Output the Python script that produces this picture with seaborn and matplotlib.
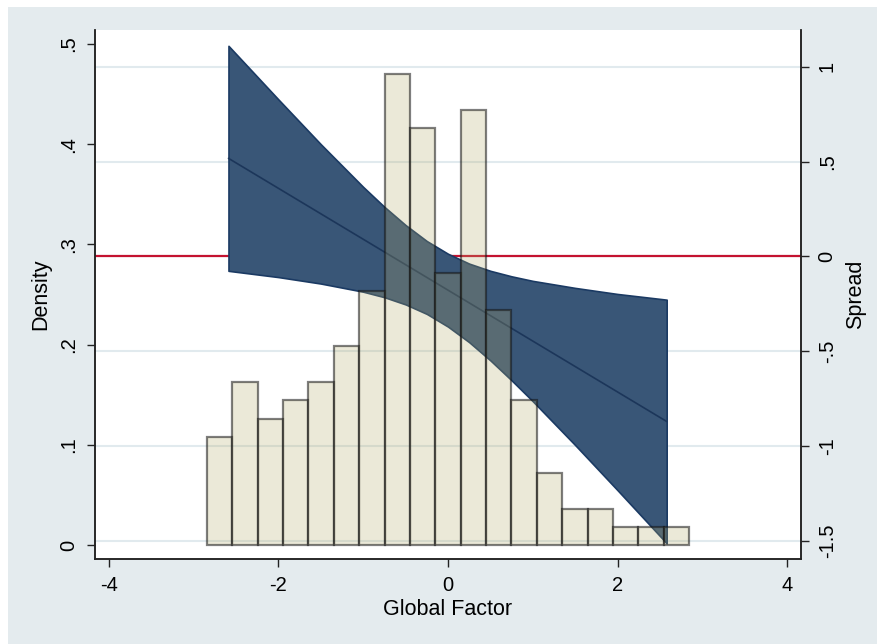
import numpy as np
import pandas as pd
import matplotlib
matplotlib.use("Agg")
import matplotlib.pyplot as plt
from matplotlib.patches import Rectangle
import seaborn as sns

# Histogram of the global factor (density scale)
hist_start = -2.845
hist_width = 0.2994
hist_density = [0.108, 0.163, 0.126, 0.145, 0.163, 0.199, 0.253, 0.470, 0.416,
                0.271, 0.434, 0.235, 0.145, 0.072, 0.036, 0.036, 0.018, 0.018, 0.018]

# Linear fit of spread on the global factor, with its confidence band
fit_x = [-2.59, 2.58]
fit_y = [0.517, -0.870]
ci_x = [-2.59, -2.0, -1.5, -1.0, -0.75, -0.5, -0.25, 0.0, 0.25, 0.5, 0.75,
        1.0, 1.5, 2.0, 2.58]
ci_upper = [1.110, 0.827, 0.591, 0.366, 0.261, 0.165, 0.081, 0.014, -0.038,
            -0.076, -0.105, -0.129, -0.166, -0.198, -0.228]
ci_lower = [-0.076, -0.109, -0.143, -0.186, -0.215, -0.253, -0.303, -0.370,
            -0.452, -0.548, -0.653, -0.763, -0.994, -1.232, -1.512]

x_ticks = [-4, -2, 0, 2, 4]
x_tick_labels = ["-4", "-2", "0", "2", "4"]
density_ticks = [0, 0.1, 0.2, 0.3, 0.4, 0.5]
density_tick_labels = ["0", ".1", ".2", ".3", ".4", ".5"]
spread_ticks = [-1.5, -1, -0.5, 0, 0.5, 1]
spread_tick_labels = ["-1.5", "-1", "-.5", "0", ".5", "1"]

sns.set_theme(style="white")
plt.rcParams["font.family"] = ["Liberation Sans", "DejaVu Sans"]

fig = plt.figure(figsize=(8.78, 6.44), dpi=100)
fig.patch.set_facecolor("white")
fig.patches.append(Rectangle((8 / 878, 0), 1 - 8 / 878, 1 - 7 / 644,
                             transform=fig.transFigure, facecolor="#e4ebee",
                             edgecolor="none", zorder=-5))

ax_d = fig.add_axes([95 / 878, (644 - 559) / 644, (801 - 95) / 878, (559 - 30) / 644])
ax_s = ax_d.twinx()

# density axis drawn above the spread axis so the bars sit on top of the band
ax_s.set_zorder(1)
ax_d.set_zorder(2)
ax_d.patch.set_visible(False)
ax_s.patch.set_visible(True)
ax_s.patch.set_facecolor("white")

# spread layer: grid, zero line, confidence band, fitted line
for t in spread_ticks:
    ax_s.axhline(t, color="#e1eaee", lw=1.5, zorder=0)
ax_s.axhline(0, color="#c41230", lw=1.6, zorder=1)
ax_s.fill_between(ci_x, ci_lower, ci_upper, facecolor="#395677",
                  edgecolor="#1b3a63", lw=1.2, zorder=2)
sns.lineplot(x=fit_x, y=fit_y, ax=ax_s, color="#1c365a", lw=1.2, zorder=3)

# histogram layer
edges = [hist_start + hist_width * i for i in range(len(hist_density) + 1)]
hist_df = pd.DataFrame({"factor": [(a + b) / 2 for a, b in zip(edges[:-1], edges[1:])],
                        "density": hist_density})
sns.histplot(data=hist_df, x="factor", weights="density", bins=edges,
             stat="count", ax=ax_d, legend=False)
for p in ax_d.patches:
    p.set_alpha(None)
    p.set_facecolor((0.71, 0.67, 0.41, 0.26))
    p.set_edgecolor((0.08, 0.08, 0.08, 0.55))
    p.set_linewidth(1.6)

ax_d.set_xlim(-4.165, 4.165)
ax_d.set_ylim(-0.014, 0.514)
ax_s.set_ylim(-1.595, 1.1935)

ax_d.set_xticks(x_ticks)
ax_d.set_xticklabels(x_tick_labels)
ax_d.set_yticks(density_ticks)
ax_d.set_yticklabels(density_tick_labels, rotation=90, va="center")
ax_s.set_yticks(spread_ticks)
ax_s.set_yticklabels(spread_tick_labels, rotation=90, va="center")

for ax in (ax_d, ax_s):
    ax.grid(False)
    ax.spines["top"].set_visible(False)
    for s in ("left", "right", "bottom"):
        ax.spines[s].set_color("#222222")
        ax.spines[s].set_linewidth(1.1)
    ax.tick_params(axis="both", direction="out", length=6, width=1.0,
                   color="#222222", labelsize=14.5, labelcolor="black", pad=6)

ax_d.tick_params(axis="y", left=True, right=False)
ax_d.tick_params(axis="x", bottom=True)
ax_s.tick_params(axis="y", right=True, left=False)

ax_d.set_xlabel("Global Factor", fontsize=15.5, color="black", labelpad=3)
ax_d.set_ylabel("Density", fontsize=15.5, color="black", labelpad=6)
ax_s.set_ylabel("Spread", fontsize=15.5, color="black", labelpad=6, rotation=90)

fig.savefig("out.png", dpi=100, facecolor=fig.get_facecolor())
